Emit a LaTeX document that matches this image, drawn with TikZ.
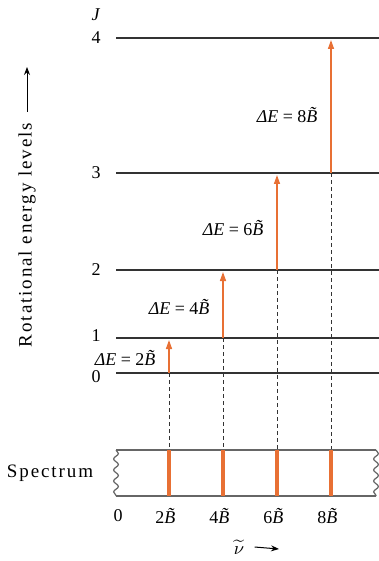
\documentclass[tikz,border=0pt]{standalone}
\usepackage{fontspec}
\setmainfont{Liberation Serif}
\usetikzlibrary{%
    arrows.meta,%
    decorations.pathmorphing,%
    positioning
    }
\definecolor{lineorange}{RGB}{232,112,52}
\newcommand{\Bt}{\textit{\~B}}
\tikzset{
  enline/.style={
    line width=1.1pt,
    black!80,
  },
  jlabel/.style={
    font=\fontsize{9}{11}\selectfont,
    inner sep=1pt,
  },
  trans/.style={
    lineorange,
    line width=0.7pt,
    -{Triangle[length=4.5pt,width=3pt]},
  },
  dline/.style={
    black!80,
    line width=0.5pt,
    dash pattern=on 2pt off 1.5pt,
  },
  boxline/.style={
    black!60,
    line width=0.6pt,
  },
  wavy/.style={
    boxline,
    decorate,
    decoration={snake, amplitude=1.2pt, segment length=5.5pt},
  },
  specline/.style={
    lineorange,
    line width=1.6pt,
  },
  delabel/.style={
    font=\fontsize{9}{11}\selectfont,
    inner sep=1pt,
    left=2pt,
  },
  axlabel/.style={
    font=\fontsize{9.5}{11}\selectfont\addfontfeatures{LetterSpace=10},
    inner sep=0pt,
  },
  axarrow/.style={
    line width=0.5pt,
    -{Stealth[length=4pt,width=3pt]},
  },
}

\begin{document}
\begin{tikzpicture}[x=0.5pt,y=-0.5pt]
\useasboundingbox (0,0) rectangle (379,561);

% energy levels
\node[jlabel] (J) at (96,15) {\textit{J}};
\foreach \j/\y/\ly in {0/373/377,1/338/336,2/270/270,3/173/173,4/38/38}{
  \coordinate (L\j) at (116,\y);
  \coordinate (R\j) at (379,\y);
  \draw[enline] (L\j) -- (R\j);
  \node[jlabel] (n\j) at (96,\ly) {\j};
}

% transitions and dashed drops
\coordinate (boxtop) at (116,450);
\coordinate (boxbot) at (116,496);
\foreach \k/\x/\lo/\hi/\dy in {1/169/373/338/358,2/223/338/270/307,3/277/270/173/228,4/331/173/38/115}{
  \coordinate (A\k) at (\x,\lo);
  \coordinate (T\k) at (\x,\hi+2);
  \draw[trans] (A\k) -- (T\k);
  \node[delabel] (de\k) at (\x,\dy) {\textit{ΔE} = \the\numexpr 2*\k\relax\Bt};
  \draw[dline] (A\k) -- (A\k |- boxtop);
}

% spectrum box
\coordinate (boxtr) at (376,450);
\coordinate (boxbr) at (376,496);
\draw[boxline] (boxtop) -- (boxtr);
\draw[boxline] (boxbot) -- (boxbr);
\draw[wavy] (boxtop) -- (boxbot);
\draw[wavy] (boxtr) -- (boxbr);
\node[axlabel] (spec) at (50,473) {Spectrum};

\foreach \k in {1,...,4}{
  \draw[specline] (A\k |- boxtop) -- (A\k |- boxbot);
  \node[jlabel] (w\k) at (A\k |- 0,516) {\the\numexpr 2*\k\relax\Bt};
}
\node[jlabel] (w0) at (118,516) {0};

% axes
\node[jlabel] (nu) at (239,547) {$\widetilde{\nu}$};
\coordinate (nuend) at (279,549);
\draw[axarrow] (nu.east) ++(4pt,0) coordinate (nustart) -- (nuend);

\node[axlabel, rotate=90] (rot) at (27,235) {Rotational energy levels};
\coordinate (rotend) at (27,67);
\draw[axarrow] (27,112) coordinate (rotstart) -- (rotend);
\end{tikzpicture}
\end{document}
